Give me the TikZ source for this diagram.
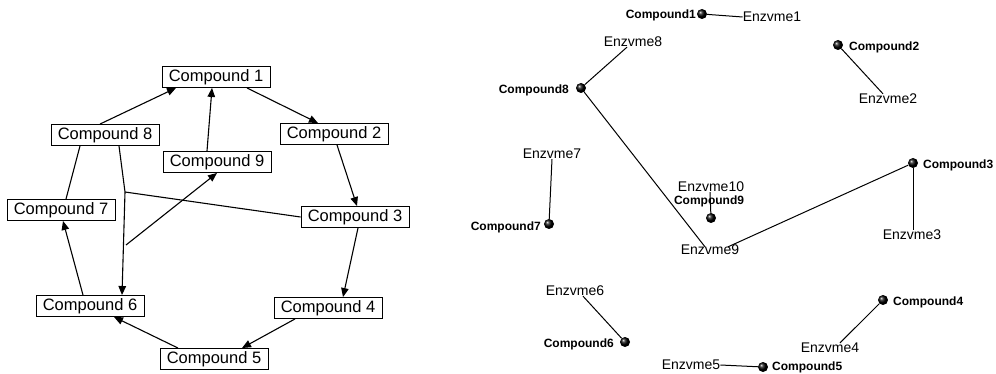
\documentclass[tikz,border=0pt]{standalone}
\usepackage{fontspec}
\setmainfont{Liberation Sans}
\usetikzlibrary{arrows.meta,shadings}
\begin{document}
\begin{tikzpicture}[x=1pt,y=-1pt,
  cbox/.style={draw,line width=0.9pt,minimum width=108pt,minimum height=21pt,inner sep=0pt,font=\fontsize{16.5}{18}\selectfont},
  arr/.style={line width=1.1pt,-{Triangle[length=9pt,width=7.5pt]}},
  plain/.style={line width=1.1pt},
  cball/.style={circle,minimum size=10pt,inner sep=0pt,shading=ball,ball color=black},
  clab/.style={inner sep=0pt,font=\fontsize{12}{13}\selectfont\bfseries},
  elab/.style={inner sep=0pt,font=\fontsize{14}{15}\selectfont},
  rl/.style={line width=1pt}]
\useasboundingbox (0,0) rectangle (996,374);
% ---------- left diagram ----------
\node[cbox] (c1) at (216,77) {Compound 1};
\node[cbox] (c2) at (334,134) {Compound 2};
\node[cbox] (c3) at (355,217) {Compound 3};
\node[cbox] (c4) at (328,308) {Compound 4};
\node[cbox] (c5) at (214,359) {Compound 5};
\node[cbox] (c6) at (90,306) {Compound 6};
\node[cbox] (c7) at (61,210) {Compound 7};
\node[cbox] (c8) at (105,135) {Compound 8};
\node[cbox] (c9) at (217,162) {Compound 9};
\coordinate (j1) at (125,192);
\coordinate (j2) at (126,245);
\draw[arr] ([xshift=31pt]c1.south) -- ([xshift=-16pt]c2.north);
\draw[arr] ([xshift=3pt]c2.south) -- ([xshift=2pt]c3.north);
\draw[arr] ([xshift=3pt]c3.south) -- ([xshift=15pt]c4.north);
\draw[arr] ([xshift=-33pt]c4.south) -- ([xshift=28pt]c5.north);
\draw[arr] ([xshift=-36pt]c5.north) -- ([xshift=24pt]c6.south);
\draw[arr] ([xshift=-7pt]c6.north) -- ([xshift=2pt]c7.south);
\draw[plain] ([xshift=5pt]c7.north) -- ([xshift=-25pt]c8.south);
\draw[arr] ([xshift=-5pt]c8.north) -- ([xshift=-40pt]c1.south);
\draw[arr] ([xshift=-10pt]c9.north) -- ([xshift=-4pt]c1.south);
\draw[arr] ([xshift=14pt]c8.south) -- (j1) -- ([xshift=32pt]c6.north);
\draw[plain] (c3.west) -- (j1);
\draw[arr] (j2) -- (c9.south);
% ---------- right diagram ----------
\node[cball] (b1) at (702,14) {};
\node[cball] (b2) at (838,45) {};
\node[cball] (b3) at (913,163) {};
\node[cball] (b4) at (883,300) {};
\node[cball] (b5) at (763,367) {};
\node[cball] (b6) at (625,342) {};
\node[cball] (b7) at (549,224) {};
\node[cball] (b8) at (581,88) {};
\node[cball] (b9) at (711,218) {};
\node[clab,anchor=east] (l1) at (696,15) {Compound1};
\node[clab,anchor=west] (l2) at (849,47) {Compound2};
\node[clab,anchor=west] (l3) at (923,165) {Compound3};
\node[clab,anchor=west] (l4) at (893,302) {Compound4};
\node[clab,anchor=west] (l5) at (772,367) {Compound5};
\node[clab,anchor=east] (l6) at (614,344) {Compound6};
\node[clab,anchor=east] (l7) at (541,227) {Compound7};
\node[clab,anchor=east] (l8) at (569,90) {Compound8};
\node[clab] (l9) at (709,201) {Compound9};
\node[elab] (e1) at (772,17) {Enzvme1};
\node[elab] (e2) at (888,99) {Enzvme2};
\node[elab] (e3) at (912,235) {Enzvme3};
\node[elab] (e4) at (830,348) {Enzvme4};
\node[elab] (e5) at (691,365) {Enzvme5};
\node[elab] (e6) at (575,291) {Enzvme6};
\node[elab] (e7) at (552,154) {Enzvme7};
\node[elab] (e8) at (633,42) {Enzvme8};
\node[elab] (e9) at (710,250) {Enzvme9};
\node[elab] (e10) at (711,187) {Enzvme10};
\draw[rl] (b1) -- (e1.west);
\draw[rl] (b2) -- ([xshift=-5pt]e2.north);
\draw[rl] (b3) -- ([xshift=18pt,yshift=-2pt]e9.north);
\draw[rl] (b3) -- ([xshift=1pt]e3.north);
\draw[rl] (b4) -- ([xshift=10pt]e4.north);
\draw[rl] (b5) -- (e5.east);
\draw[rl] (b6) -- ([xshift=8pt]e6.south);
\draw[rl] (b7) -- (e7.south);
\draw[rl] (b8) -- ([xshift=-6pt]e8.south);
\draw[rl] (b8) -- ([xshift=-5pt,yshift=-2pt]e9.north);
\draw[rl] (b9) -- ([xshift=-1pt]e10.south);
\end{tikzpicture}
\end{document}
